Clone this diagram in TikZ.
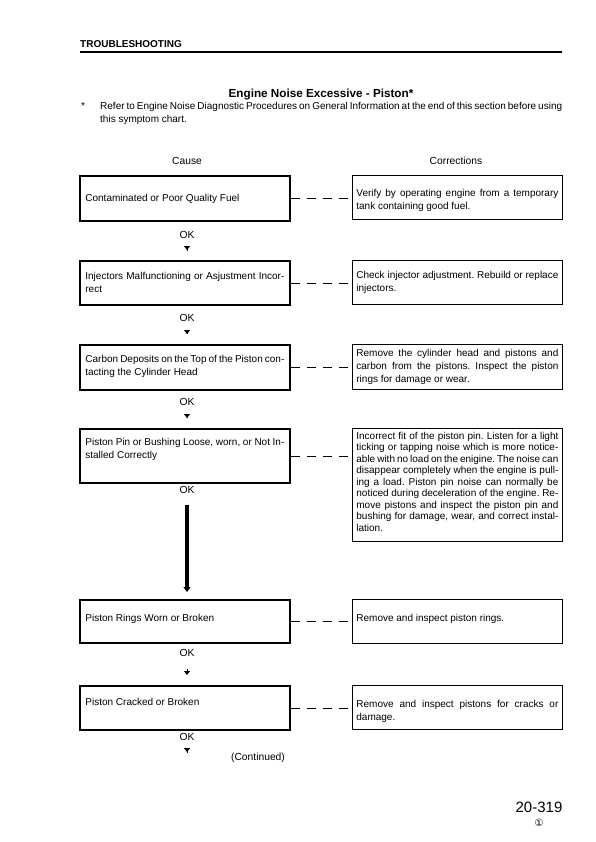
\documentclass[tikz,border=0pt]{standalone}
\usepackage{fontspec}
\setmainfont{Liberation Sans}[WordSpace={1,1,1.6}]
\newfontfamily\symfont{DejaVu Sans}
\usetikzlibrary{arrows.meta}
\frenchspacing

\begin{document}
\begin{tikzpicture}[
  x=1pt,
  y=-1pt,
  every node/.style={font=\fontsize{10}{13}\selectfont},
  cause/.style={draw,line width=1.8pt,anchor=north west,inner xsep=5.5pt,inner ysep=0pt,
    text width=199pt,align=justify},
  fix/.style={draw,line width=0.8pt,anchor=north west,inner xsep=4pt,inner ysep=0pt,
    text width=202pt,align=justify},
  dashlink/.style={line width=0.8pt,dash pattern=on 9pt off 7pt},
  okarrow/.style={-{Triangle[width=6pt,length=4pt]},line width=1pt,shorten <=9pt,shorten >=10pt},
  bigarrow/.style={-{Triangle[width=7pt,length=5pt]},line width=4.5pt,shorten <=8pt,shorten >=7pt},
  lab/.style={font=\fontsize{10.3}{12}\selectfont}
]
\useasboundingbox (0,0) rectangle (596,842);
% page head
\node[anchor=base west,inner sep=0pt,font=\bfseries\fontsize{10}{12}\selectfont] (head) at (80,48) {TROUBLESHOOTING};
\draw[line width=1.1pt] (80,52) -- (562,52);
\node[anchor=base,font=\bfseries\fontsize{11.7}{14}\selectfont] (title) at (321,98) {Engine Noise Excessive - Piston*};
\node[anchor=base west,inner sep=0pt] (star) at (81,110) {*};
\node[anchor=base west,inner sep=0pt,text width=462pt,align=justify] (note) at (100,110)
  {Refer to Engine Noise Diagnostic Procedures on General Information at the end of this section before using\linebreak this symptom chart.};
\node[lab,anchor=base] (causehd) at (187,165) {Cause};
\node[lab,anchor=base] (fixhd) at (456,165) {Corrections};
% causes
\node[cause,text height=26pt,text depth=19pt] (c1) at (79,175) {Contaminated or Poor Quality Fuel};
\node[cause,text height=19pt,text depth=25pt] (c2) at (79,260) {Injectors Malfunctioning or Asjustment Incor-\linebreak rect};
\node[cause,text height=18pt,text depth=27pt] (c3) at (79,344) {Carbon Deposits on the Top of the Piston con-\linebreak tacting the Cylinder Head};
\node[cause,text height=17pt,text depth=37pt] (c4) at (79,428) {Piston Pin or Bushing Loose, worn, or Not In-\linebreak stalled Correctly};
\node[cause,text height=22pt,text depth=21pt] (c5) at (79,599) {Piston Rings Worn or Broken};
\node[cause,text height=20pt,text depth=24pt] (c6) at (79,685) {Piston Cracked or Broken};
% corrections
\node[fix,text height=21pt,text depth=23pt] (f1) at (352,175) {Verify by operating engine from a temporary\linebreak tank containing good fuel.};
\node[fix,text height=18pt,text depth=26pt] (f2) at (352,260) {Check injector adjustment. Rebuild or replace\linebreak injectors.};
\node[fix,text height=12pt,text depth=33pt] (f3) at (352,344) {Remove the cylinder head and pistons and\linebreak carbon from the pistons. Inspect the piston\linebreak rings for damage or wear.};
\node[fix,text height=11pt,text depth=102pt,font=\fontsize{10}{11.5}\selectfont] (f4) at (352,428)
  {Incorrect fit of the piston pin. Listen for a light\linebreak ticking or tapping noise which is more notice-\linebreak able with no load on the enigine. The noise can\linebreak disappear completely when the engine is pull-\linebreak ing a load. Piston pin noise can normally be\linebreak noticed during deceleration of the engine. Re-\linebreak move pistons and inspect the piston pin and\linebreak bushing for damage, wear, and correct instal-\linebreak lation.};
\node[fix,text height=22pt,text depth=22pt] (f5) at (352,599) {Remove and inspect piston rings.};
\node[fix,text height=22pt,text depth=22pt] (f6) at (352,685) {Remove and inspect pistons for cracks or\linebreak damage.};
% OK steps
\foreach \n/\y in {1/235,2/318,3/402,4/490,5/653,6/737}
  \node[lab] (ok\n) at (187,\y) {OK};
\foreach \a/\b in {1/2,2/3,3/4,5/6}
  \draw[okarrow] (ok\a) -- (ok\a |- c\b.north);
\draw[bigarrow] (ok4) -- (ok4 |- c5.north);
\coordinate (more) at (187,762);
\draw[okarrow] (ok6) -- (more);
\foreach \n in {1,...,6}
  \draw[dashlink] (c\n.east) -- (c\n.east -| f\n.west);
\node[lab,anchor=base] (cont) at (258,760) {(Continued)};
% page foot
\node[anchor=base,font=\fontsize{15}{18}\selectfont] (page) at (539,812) {20-319};
\node[font=\symfont\fontsize{10}{11}\selectfont] (rev) at (539,823) {①};
\end{tikzpicture}
\end{document}
